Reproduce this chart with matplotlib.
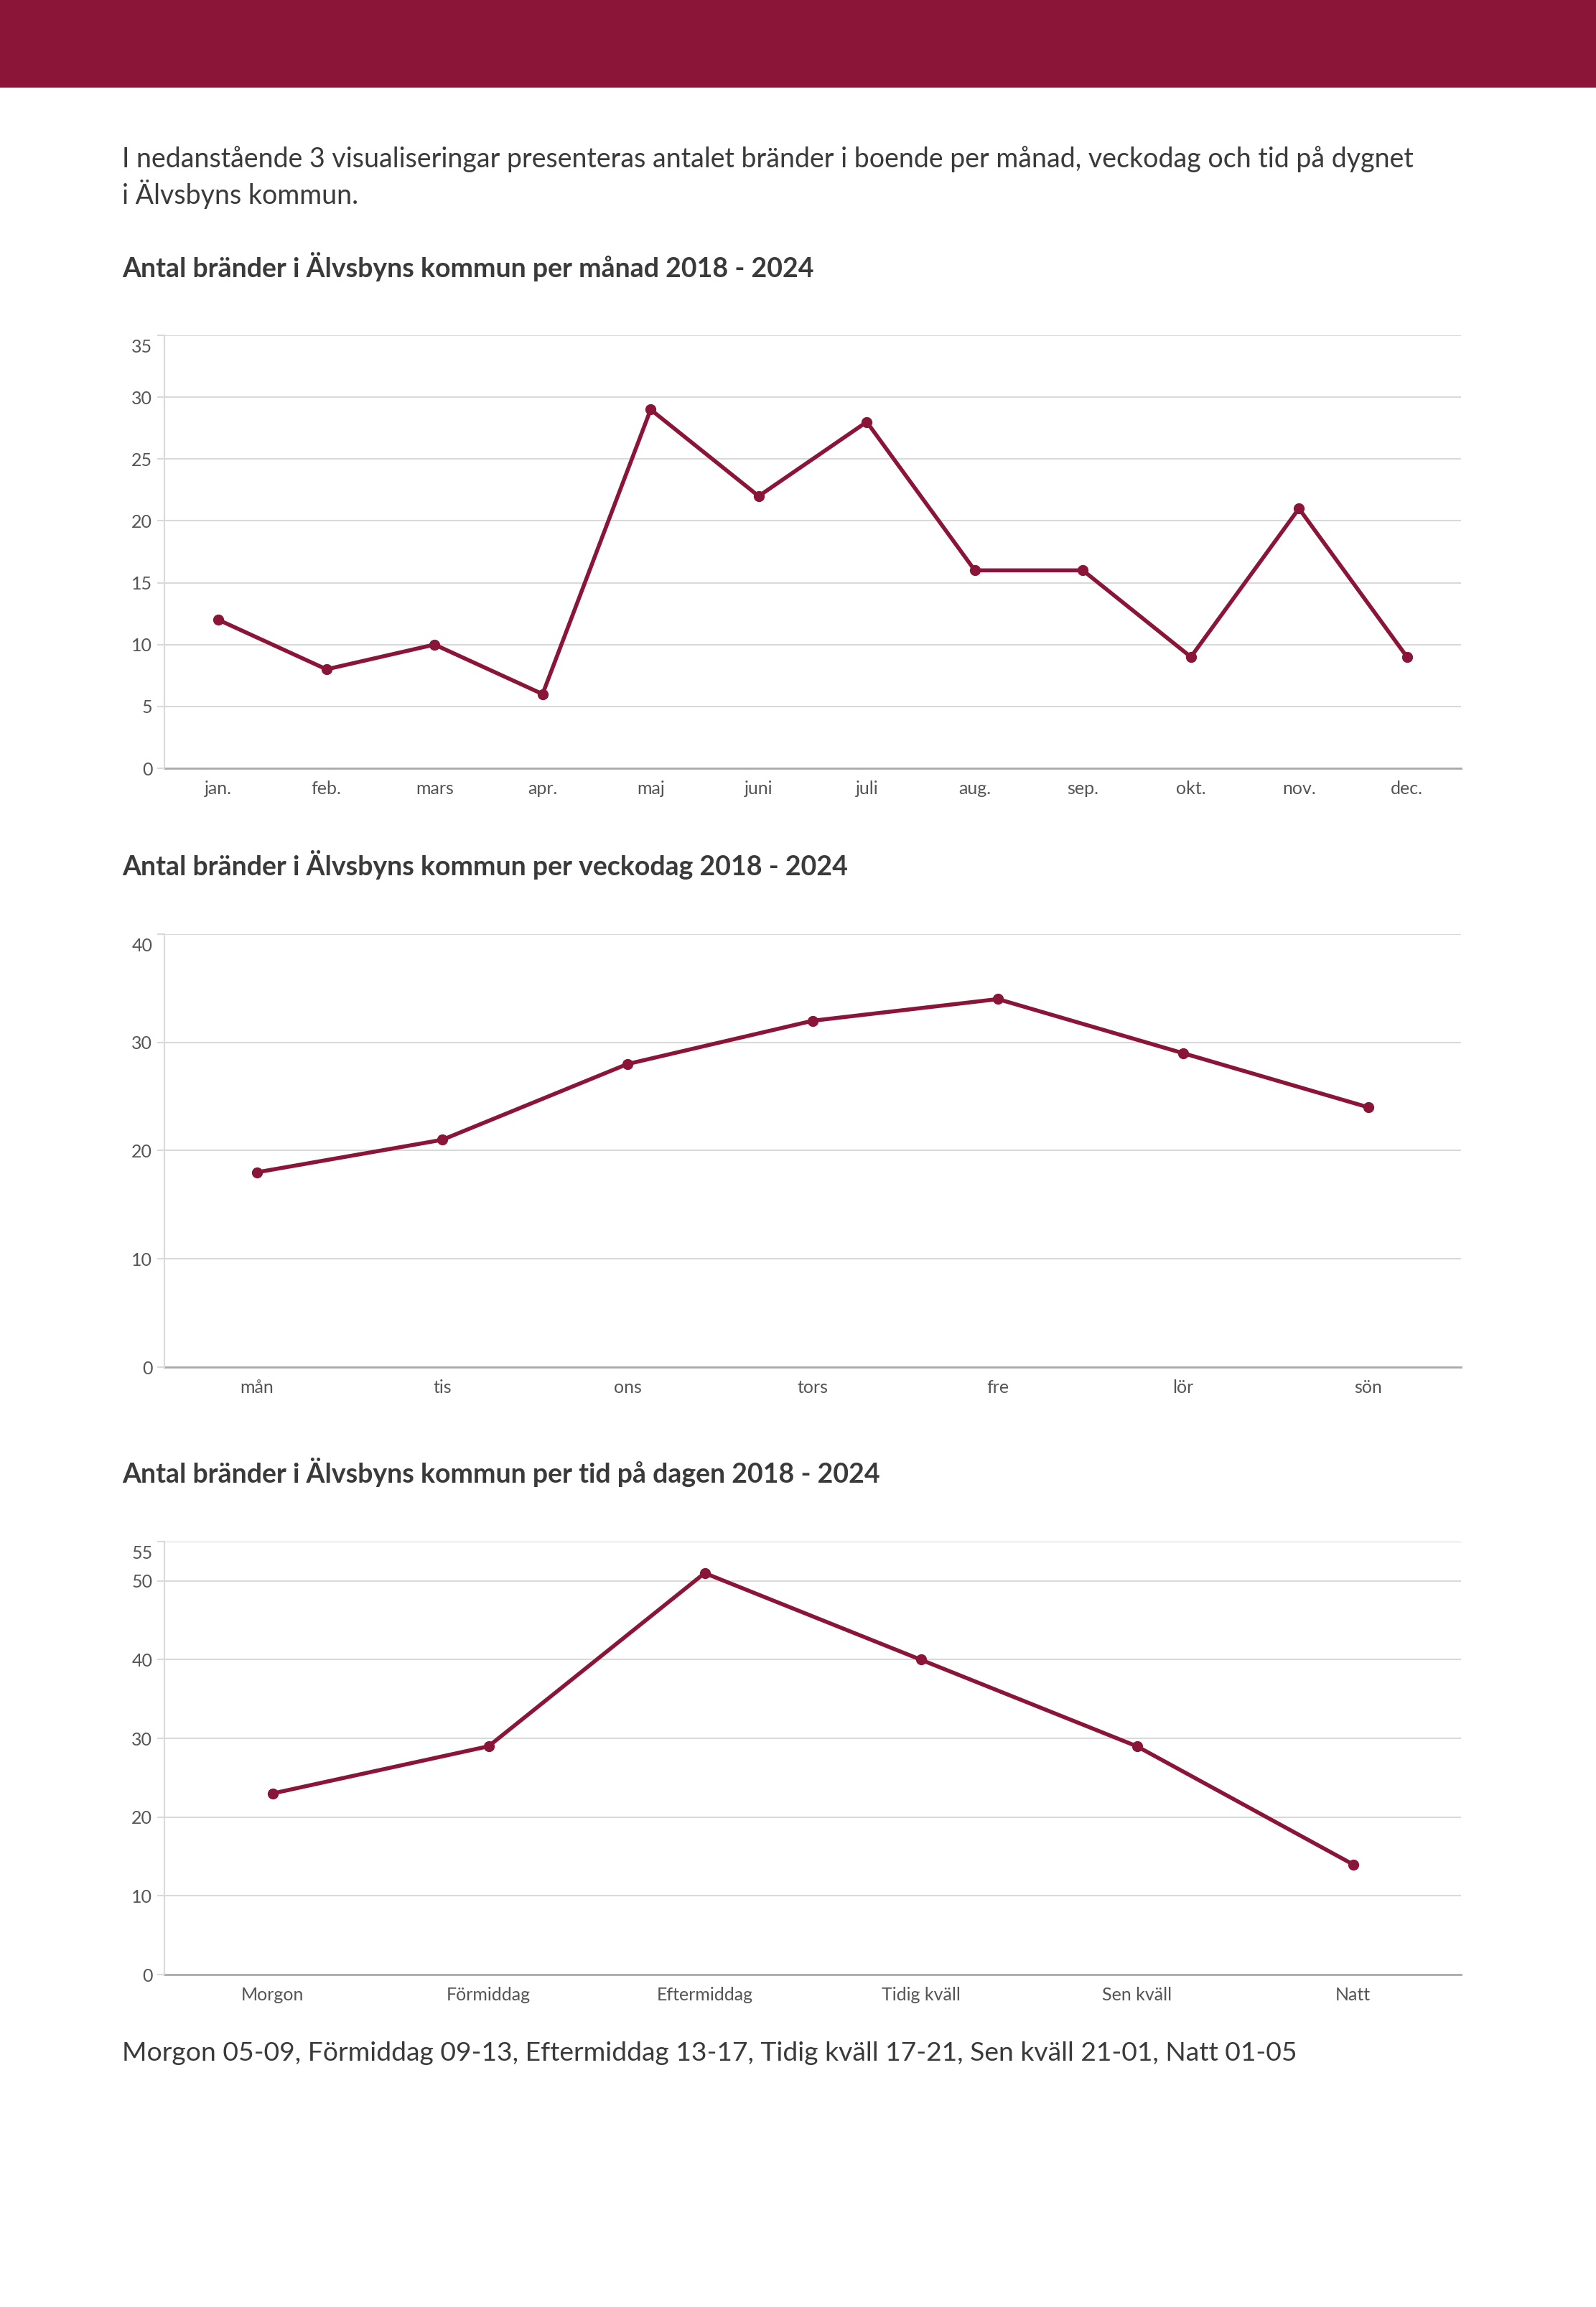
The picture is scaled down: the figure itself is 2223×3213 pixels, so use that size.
import matplotlib
matplotlib.use("Agg")
import matplotlib.pyplot as plt
from matplotlib.patches import Rectangle

plt.rcParams['font.family'] = ['Lato', 'DejaVu Sans']

# ---- data ----
months = ["jan.", "feb.", "mars", "apr.", "maj", "juni", "juli", "aug.", "sep.", "okt.", "nov.", "dec."]
month_values = [12, 8, 10, 6, 29, 22, 28, 16, 16, 9, 21, 9]
month_yticks = [0, 5, 10, 15, 20, 25, 30, 35]

weekdays = ["mån", "tis", "ons", "tors", "fre", "lör", "sön"]
weekday_values = [18, 21, 28, 32, 34, 29, 24]
weekday_yticks = [0, 10, 20, 30, 40]

dayparts = ["Morgon", "Förmiddag", "Eftermiddag", "Tidig kväll", "Sen kväll", "Natt"]
daypart_values = [23, 29, 51, 40, 29, 14]
daypart_yticks = [0, 10, 20, 30, 40, 50, 55]

intro_lines = ["I nedanstående 3 visualiseringar presenteras antalet bränder i boende per månad, veckodag och tid på dygnet",
               "i Älvsbyns kommun."]
titles = ["Antal bränder i Älvsbyns kommun per månad 2018 - 2024",
          "Antal bränder i Älvsbyns kommun per veckodag 2018 - 2024",
          "Antal bränder i Älvsbyns kommun per tid på dagen 2018 - 2024"]
footnote = "Morgon 05-09, Förmiddag 09-13, Eftermiddag 13-17, Tidig kväll 17-21, Sen kväll 21-01, Natt 01-05"

# ---- style ----
W, H = 2223, 3213
DPI = 100
BURGUNDY = "#8A1538"
TEXT = "#3a3a3a"
TICK = "#555555"
GRID = "#d9d9d9"
AXIS = "#aaaaaa"

fig = plt.figure(figsize=(W / DPI, H / DPI), dpi=DPI)

def fx(px):
    return px / W

def fy(py):
    return 1 - py / H

# banner
fig.patches.append(Rectangle((0, fy(122)), 1, 122 / H, transform=fig.transFigure,
                             facecolor=BURGUNDY, edgecolor="none", zorder=0))

fig.text(fx(170), fy(233), intro_lines[0], fontsize=27, color=TEXT, va="baseline", ha="left")
fig.text(fx(170), fy(284), intro_lines[1], fontsize=27, color=TEXT, va="baseline", ha="left")

title_baselines = [386, 1219, 2065]
for t, yb in zip(titles, title_baselines):
    fig.text(fx(170), fy(yb), t, fontsize=27, color=TEXT, fontweight="bold", va="baseline", ha="left")

fig.text(fx(170), fy(2870), footnote, fontsize=26.8, color=TEXT, va="baseline", ha="left")

left_px, right_px = 229, 2035
panels = [
    (months, month_values, month_yticks, 467, 1070),
    (weekdays, weekday_values, weekday_yticks, 1301, 1904),
    (dayparts, daypart_values, daypart_yticks, 2147, 2750),
]

for cats, vals, yt, top_px, bot_px in panels:
    ax = fig.add_axes([fx(left_px), fy(bot_px), (right_px - left_px) / W, (bot_px - top_px) / H])
    x = list(range(len(cats)))
    ax.plot(x, vals, color=BURGUNDY, lw=4, marker="o", markersize=10,
            markerfacecolor=BURGUNDY, markeredgecolor=BURGUNDY, zorder=3, solid_capstyle="round")
    ax.set_xlim(-0.5, len(cats) - 0.5)
    ax.set_ylim(0, yt[-1])
    ax.set_yticks(yt)
    ax.set_yticklabels([str(v) if v != yt[-1] else "" for v in yt])
    ax.annotate(str(yt[-1]), xy=(0, yt[-1]), xycoords=("axes fraction", "data"),
                xytext=(-12, -12), textcoords="offset points", ha="right", va="center",
                fontsize=18, color=TICK)
    ax.set_xticks(x)
    ax.set_xticklabels(cats)
    ax.grid(axis="y", color=GRID, lw=1.5, zorder=0)
    ax.set_axisbelow(True)
    for s in ["top", "right"]:
        ax.spines[s].set_visible(False)
    ax.spines["left"].set_color(GRID)
    ax.spines["left"].set_linewidth(1.5)
    ax.spines["bottom"].set_color(AXIS)
    ax.spines["bottom"].set_linewidth(2)
    ax.spines["bottom"].set_zorder(2)
    ax.tick_params(axis="y", length=7, width=1.5, color=GRID, labelsize=18, labelcolor=TICK, pad=5)
    ax.tick_params(axis="x", length=0, labelsize=18, labelcolor=TICK, pad=12)
    ax.set_facecolor("white")

fig.savefig("out.png", dpi=DPI, facecolor="white")
